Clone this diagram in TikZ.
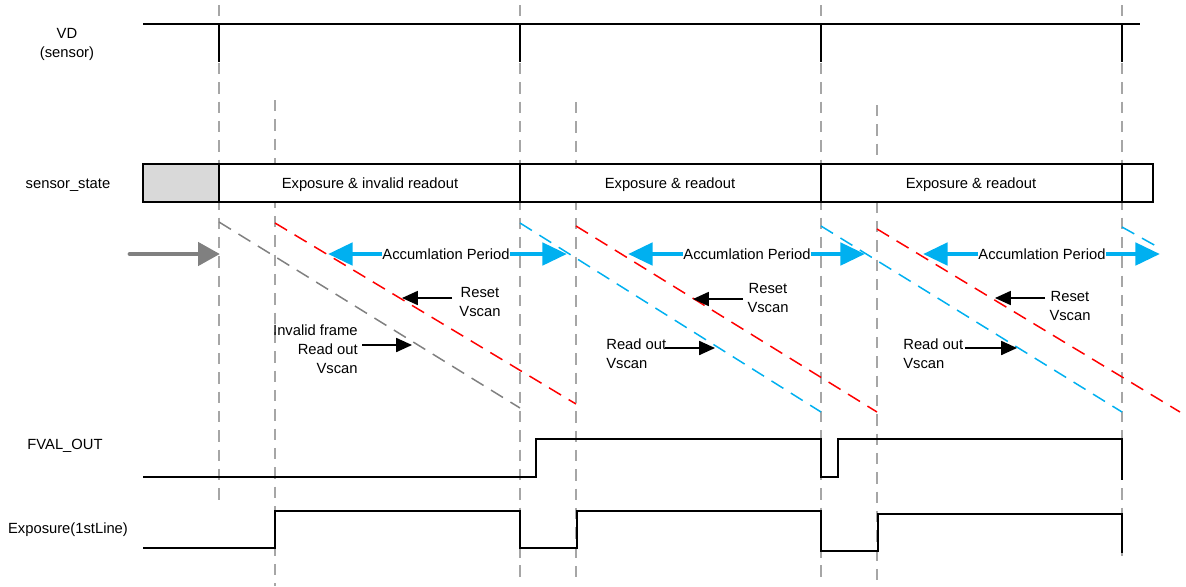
\documentclass[tikz,border=0pt]{standalone}
\usepackage{fontspec}
\setmainfont{Liberation Sans}
\usepackage{xcolor}
\usepackage{tikz}
\usetikzlibrary{arrows.meta}
\usetikzlibrary{backgrounds}
\pgfdeclarelayer{edgelayer}
\pgfdeclarelayer{nodelayer}
\pgfsetlayers{background,edgelayer,nodelayer,main}
\definecolor{accblue}{HTML}{00B0F0}
\definecolor{guidegray}{HTML}{A6A6A6}
\definecolor{scangray}{HTML}{808080}
\definecolor{idlegray}{HTML}{D9D9D9}
\tikzstyle{none}=[inner sep=0mm]
\tikzstyle{lbl}=[inner sep=0mm,font=\fontsize{8.4}{10.8}\selectfont,align=center]
\tikzstyle{lblr}=[lbl,align=right,anchor=east]
\tikzstyle{lbll}=[lbl,align=left,anchor=west]
\tikzstyle{guide}=[draw=guidegray,line width=0.85pt,dash pattern=on 6.5pt off 4.5pt]
\tikzstyle{wave}=[draw=black,line width=1.1pt]
\tikzstyle{cell}=[draw=black,line width=1.1pt,fill=white]
\tikzstyle{idle}=[cell,fill=idlegray]
\tikzstyle{iscan}=[draw=scangray,line width=0.85pt,dash pattern=on 8pt off 5pt]
\tikzstyle{rscan}=[iscan,draw=red]
\tikzstyle{oscan}=[iscan,draw=accblue]
\tikzstyle{accarrow}=[draw=accblue,line width=2.8pt,-{Triangle[length=14pt,width=12.5pt]}]
\tikzstyle{startarrow}=[draw=scangray,line width=2.8pt,line cap=round,-{Triangle[length=12.5pt,width=13pt]}]
\tikzstyle{ptr}=[draw=black,line width=0.85pt,-{Triangle[length=9pt,width=8pt]}]

\begin{document}
\begin{tikzpicture}[x=0.02cm,y=-0.02cm]
	\useasboundingbox (0,0) rectangle (1186,586);
	\begin{pgfonlayer}{nodelayer}
		\node [style=lbl] (vd) at (67, 44.5) {VD\\(sensor)};
		\node [style=lbl] (state) at (68, 185) {sensor\_state};
		\node [style=lbl] (fval) at (65, 446) {FVAL\_OUT};
		\node [style=lbl] (expo) at (68, 530) {Exposure(1stLine)};
		\node [style=lbl] (ex1) at (370, 185) {Exposure \& invalid readout};
		\node [style=lbl] (ex2) at (670, 185) {Exposure \& readout};
		\node [style=lbl] (ex3) at (971, 185) {Exposure \& readout};
		\node [style=lbl] (acc1) at (446, 254) {Accumlation Period};
		\node [style=lbl] (acc2) at (747, 254) {Accumlation Period};
		\node [style=lbl] (acc3) at (1042, 254) {Accumlation Period};
		\node [style=lbl] (rs1) at (480, 302) {Reset\\Vscan};
		\node [style=lbl] (rs2) at (768, 298) {Reset\\Vscan};
		\node [style=lbl] (rs3) at (1070, 306) {Reset\\Vscan};
		\node [style=lblr] (inv) at (358, 349) {Invalid frame\\Read out\\Vscan};
		\node [style=lbll] (ro2) at (606, 354) {Read out\\Vscan};
		\node [style=lbll] (ro3) at (903, 354) {Read out\\Vscan};
		\node [style=none] (vdl) at (143, 24) {};
		\node [style=none] (vdr) at (1140, 24) {};
		\node [style=none] (vt1) at (219, 24) {};
		\node [style=none] (vb1) at (219, 62) {};
		\node [style=none] (vt2) at (520, 24) {};
		\node [style=none] (vb2) at (520, 62) {};
		\node [style=none] (vt3) at (821, 24) {};
		\node [style=none] (vb3) at (821, 62) {};
		\node [style=none] (vt4) at (1122, 24) {};
		\node [style=none] (vb4) at (1122, 62) {};
		\node [style=none] (gt1) at (219, 5) {};
		\node [style=none] (gb1) at (219, 502) {};
		\node [style=none] (gt2) at (275, 100) {};
		\node [style=none] (gb2) at (275, 586) {};
		\node [style=none] (gt3) at (520, 5) {};
		\node [style=none] (gb3) at (520, 582) {};
		\node [style=none] (gt4) at (576, 102) {};
		\node [style=none] (gb4) at (576, 582) {};
		\node [style=none] (gt5) at (821, 5) {};
		\node [style=none] (gb5) at (821, 582) {};
		\node [style=none] (gt6) at (877, 105) {};
		\node [style=none] (gb6) at (877, 582) {};
		\node [style=none] (gt7) at (1122, 5) {};
		\node [style=none] (gb7) at (1122, 556) {};
		\node [style=none] (c0t) at (143, 164) {};
		\node [style=none] (c1t) at (219, 164) {};
		\node [style=none] (c1b) at (219, 202) {};
		\node [style=none] (c2t) at (520, 164) {};
		\node [style=none] (c2b) at (520, 202) {};
		\node [style=none] (c3t) at (821, 164) {};
		\node [style=none] (c3b) at (821, 202) {};
		\node [style=none] (c4t) at (1122, 164) {};
		\node [style=none] (c4b) at (1122, 202) {};
		\node [style=none] (c5b) at (1153, 202) {};
		\node [style=none] (ig0) at (219, 222) {};
		\node [style=none] (ig1) at (520, 408) {};
		\node [style=none] (r1a) at (275, 223) {};
		\node [style=none] (r1b) at (576, 404) {};
		\node [style=none] (o1a) at (520, 223) {};
		\node [style=none] (o1b) at (821, 412) {};
		\node [style=none] (r2a) at (576, 226) {};
		\node [style=none] (r2b) at (877, 412) {};
		\node [style=none] (o2a) at (821, 226) {};
		\node [style=none] (o2b) at (1122, 412) {};
		\node [style=none] (r3a) at (877, 229) {};
		\node [style=none] (r3b) at (1180, 412) {};
		\node [style=none] (o3a) at (1122, 227) {};
		\node [style=none] (o3b) at (1156, 246) {};
		\node [style=none] (ga0) at (130, 254) {};
		\node [style=none] (ga1) at (220, 254) {};
		\node [style=none] (a1l) at (328, 254) {};
		\node [style=none] (a1r) at (567, 254) {};
		\node [style=none] (a2l) at (628, 254) {};
		\node [style=none] (a2r) at (865, 254) {};
		\node [style=none] (a3l) at (923, 254) {};
		\node [style=none] (a3r) at (1160, 254) {};
		\node [style=none] (p1a) at (452, 298) {};
		\node [style=none] (p1b) at (402, 298) {};
		\node [style=none] (p2a) at (743, 299) {};
		\node [style=none] (p2b) at (693, 299) {};
		\node [style=none] (p3a) at (1045, 298) {};
		\node [style=none] (p3b) at (995, 298) {};
		\node [style=none] (q1a) at (362, 345) {};
		\node [style=none] (q1b) at (412, 345) {};
		\node [style=none] (q2a) at (665, 348) {};
		\node [style=none] (q2b) at (715, 348) {};
		\node [style=none] (q3a) at (965, 348) {};
		\node [style=none] (q3b) at (1017, 348) {};
		\node [style=none] (f0) at (143, 477) {};
		\node [style=none] (f1) at (536, 439) {};
		\node [style=none] (f2) at (821, 477) {};
		\node [style=none] (f3) at (838, 439) {};
		\node [style=none] (f4) at (1122, 480) {};
		\node [style=none] (e0) at (143, 548) {};
		\node [style=none] (e1) at (275, 511) {};
		\node [style=none] (e2) at (520, 548) {};
		\node [style=none] (e3) at (577, 511) {};
		\node [style=none] (e4) at (821, 551) {};
		\node [style=none] (e5) at (878, 514) {};
		\node [style=none] (e6) at (1122, 553) {};
	\end{pgfonlayer}
	\begin{pgfonlayer}{edgelayer}
		\draw[style=guide] (gt1.center) to (gb1.center);
		\draw[style=guide] (gt2.center) to (gb2.center);
		\draw[style=guide] (gt3.center) to (gb3.center);
		\draw[style=guide] (gt4.center) to (gb4.center);
		\draw[style=guide] (gt5.center) to (gb5.center);
		\draw[style=guide] (gt6.center) to (gb6.center);
		\draw[style=guide] (gt7.center) to (gb7.center);
		\draw[style=wave] (vdl.center) to (vdr.center);
		\draw[style=wave] (vt1.center) to (vb1.center);
		\draw[style=wave] (vt2.center) to (vb2.center);
		\draw[style=wave] (vt3.center) to (vb3.center);
		\draw[style=wave] (vt4.center) to (vb4.center);
		\draw[style=idle] (c0t.center) rectangle (c1b.center);
		\draw[style=cell] (c1t.center) rectangle (c2b.center);
		\draw[style=cell] (c2t.center) rectangle (c3b.center);
		\draw[style=cell] (c3t.center) rectangle (c4b.center);
		\draw[style=cell] (c4t.center) rectangle (c5b.center);
		\draw[style=iscan] (ig0.center) to (ig1.center);
		\draw[style=rscan] (r1a.center) to (r1b.center);
		\draw[style=oscan] (o1a.center) to (o1b.center);
		\draw[style=rscan] (r2a.center) to (r2b.center);
		\draw[style=oscan] (o2a.center) to (o2b.center);
		\draw[style=rscan] (r3a.center) to (r3b.center);
		\draw[style=oscan] (o3a.center) to (o3b.center);
		\draw[style=startarrow] (ga0.center) to (ga1.center);
		\draw[style=accarrow] (acc1) to (a1l.center);
		\draw[style=accarrow] (acc1) to (a1r.center);
		\draw[style=accarrow] (acc2) to (a2l.center);
		\draw[style=accarrow] (acc2) to (a2r.center);
		\draw[style=accarrow] (acc3) to (a3l.center);
		\draw[style=accarrow] (acc3) to (a3r.center);
		\draw[style=ptr] (p1a.center) to (p1b.center);
		\draw[style=ptr] (p2a.center) to (p2b.center);
		\draw[style=ptr] (p3a.center) to (p3b.center);
		\draw[style=ptr] (q1a.center) to (q1b.center);
		\draw[style=ptr] (q2a.center) to (q2b.center);
		\draw[style=ptr] (q3a.center) to (q3b.center);
		\draw[style=wave] (f0.center) -| (f1.center) -| (f2.center) -| (f3.center) -| (f4.center);
		\draw[style=wave] (e0.center) -| (e1.center) -| (e2.center) -| (e3.center) -| (e4.center) -| (e5.center) -| (e6.center);
	\end{pgfonlayer}
\end{tikzpicture}
\end{document}
